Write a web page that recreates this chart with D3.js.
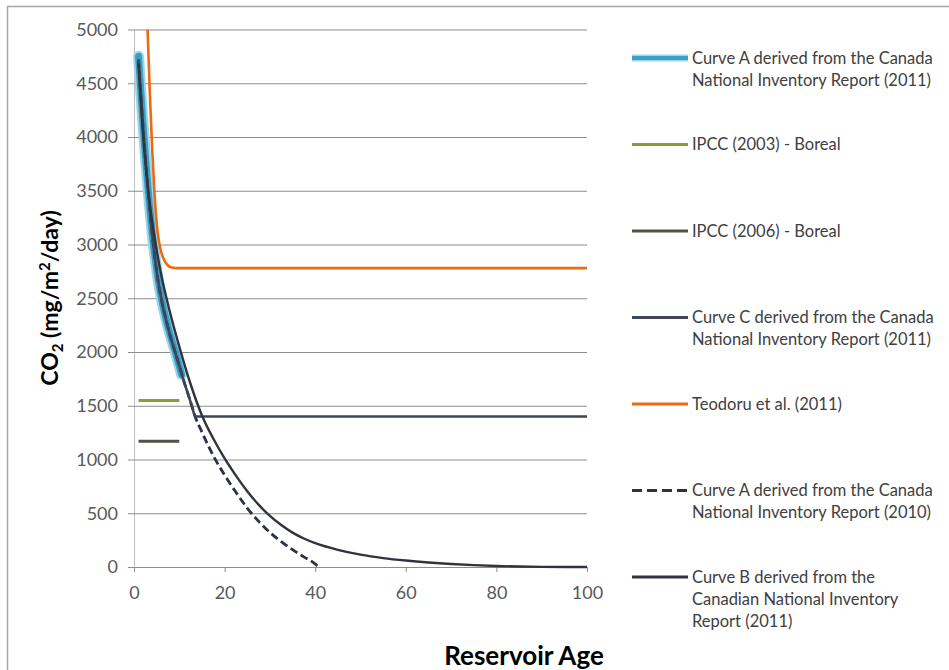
<!DOCTYPE html>
<html>
<head>
<meta charset="utf-8">
<script src="https://cdn.jsdelivr.net/npm/d3@7/dist/d3.min.js"></script>
<style>
  html, body { margin: 0; padding: 0; background: #fff; }
  svg { display: block; font-family: Lato, "Open Sans", sans-serif; }
</style>
</head>
<body>
<svg id="chart" width="949" height="670"></svg>
<script>
// ---------------- data ----------------
const xTicks = [0, 20, 40, 60, 80, 100];
const yTicks = [0, 500, 1000, 1500, 2000, 2500, 3000, 3500, 4000, 4500, 5000];

// [reservoir age, CO2 mg/m2/day]
const curveA2011 = [[1,4750],[1.5,4420],[2,4110],[2.5,3830],[3,3570],[3.5,3330],[4,3110],[4.5,2930],[5,2770],[6,2510],[7,2320],[8,2160],[9,2020],[10,1870],[10.5,1790]];
const ipcc2003 = [[1,1550],[10,1550]];
const ipcc2006 = [[1,1170],[10,1170]];
const curveC2011 = [[1,4720],[2,4090],[3,3550],[4,3100],[5,2750],[6,2500],[7,2310],[8,2150],[9,2010],[10,1870],[11,1730],[12,1600],[13,1465],[13.5,1400],[20,1400],[40,1400],[60,1400],[80,1400],[100,1400]];
const teodoru2011 = [[3,5000],[3.5,4400],[4,3900],[4.5,3500],[5,3200],[5.5,3030],[6,2930],[6.5,2870],[7,2830],[7.5,2805],[8,2790],[9,2782],[10,2780],[20,2780],[40,2780],[60,2780],[80,2780],[100,2780]];
const curveA2010 = [[1,4720],[2,4090],[3,3550],[4,3100],[5,2750],[6,2500],[7,2310],[8,2150],[9,2010],[10,1870],[11,1730],[12,1600],[13,1465],[13.5,1400],[15,1255],[17.5,1035],[20,855],[22.5,695],[25,548],[27.5,425],[30,322],[32.5,236],[35,162],[37.5,94],[40,28],[40.7,0]];
const curveB2011 = [[1,4680],[2,4020],[3,3560],[4,3220],[5,2950],[6,2720],[8,2360],[10,2050],[12.5,1700],[15,1410],[17.5,1195],[20,1010],[22.5,850],[25,705],[27.5,580],[30,475],[32.5,390],[35,320],[37.5,265],[40,222],[45,160],[50,115],[55,83],[60,60],[65,42],[70,28],[75,17],[80,9],[85,4],[90,1],[95,0],[100,0]];

const legendLabels = [
  ["Curve A derived from the Canada", "National Inventory Report (2011)"],
  ["IPCC (2003) - Boreal"],
  ["IPCC (2006) - Boreal"],
  ["Curve C derived from the Canada", "National Inventory Report (2011)"],
  ["Teodoru et al. (2011)"],
  ["Curve A derived from the Canada", "National Inventory Report (2010)"],
  ["Curve B derived from the", "Canadian National Inventory", "Report (2011)"]
];

// ---------------- layout ----------------
const svg = d3.select("#chart");
const W = 949, H = 670;
const plot = { left: 134, right: 587, top: 29.5, bottom: 567 };

const x = d3.scaleLinear().domain([0, 100]).range([plot.left, plot.right]);
const y = d3.scaleLinear().domain([0, 5000]).range([plot.bottom, plot.top]);

// frame
svg.append("path")
  .attr("d", `M7.5,${H} L7.5,6.5 L${W},6.5`)
  .attr("fill", "none").attr("stroke", "#a6a6a6").attr("stroke-width", 1.5);

// y axis with gridlines
const gy = svg.append("g").attr("transform", `translate(${plot.left},0)`)
  .call(d3.axisLeft(y).tickValues(yTicks).tickFormat(d3.format("d"))
    .tickSizeInner(-(plot.right - plot.left)).tickSizeOuter(0).tickPadding(16));
gy.select(".domain").attr("stroke", "#bfbfbf");
gy.selectAll(".tick line").attr("x1", -6).attr("x2", plot.right - plot.left).attr("stroke", "#8c8c8c").attr("stroke-width", 1);
gy.selectAll(".tick text").attr("fill", "#595959").style("font-size", "18px").style("font-family", "Lato, sans-serif");

// x axis
const gx = svg.append("g").attr("transform", `translate(0,${plot.bottom})`)
  .call(d3.axisBottom(x).tickValues(xTicks).tickFormat(d3.format("d"))
    .tickSizeInner(5).tickSizeOuter(0).tickPadding(14));
gx.select(".domain").attr("stroke", "#8c8c8c");
gx.selectAll(".tick line").attr("stroke", "#8c8c8c");
gx.selectAll(".tick text").attr("fill", "#595959").style("font-size", "18px").style("font-family", "Lato, sans-serif");

// lines
const line = d3.line().x(d => x(d[0])).y(d => y(d[1])).curve(d3.curveMonotoneX);

const styles = [
  { data: curveA2011, color: "#3a9fc4", width: 7, glow: "#9fd6e7" },
  { data: ipcc2003, color: "#8a9a3c", width: 3 },
  { data: ipcc2006, color: "#4d5546", width: 3 },
  { data: curveC2011, color: "#3e4558", width: 2.6 },
  { data: teodoru2011, color: "#ec6a12", width: 2.6 },
  { data: curveA2010, color: "#2c3244", width: 2.8, dash: "8,4" },
  { data: curveB2011, color: "#30343f", width: 2.4 }
];
const drawOrder = [0, 1, 2, 5, 3, 6, 4];
const gl = svg.append("g");
drawOrder.forEach(i => {
  const s = styles[i];
  if (s.glow) {
    gl.append("path").attr("d", line(s.data)).attr("fill", "none")
      .attr("stroke", s.glow).attr("stroke-width", s.width + 4).attr("stroke-linecap", "round");
  }
  gl.append("path").attr("d", line(s.data)).attr("fill", "none")
    .attr("stroke", s.color).attr("stroke-width", s.width)
    .attr("stroke-dasharray", s.dash || null)
    .attr("stroke-linecap", s.glow ? "round" : "butt");
});

// axis titles
svg.append("text")
  .attr("x", 524).attr("y", 665).attr("text-anchor", "middle")
  .style("font-size", "26px").style("font-weight", "bold").attr("fill", "#000")
  .text("Reservoir Age");

const yt = svg.append("text")
  .attr("transform", "translate(58,298) rotate(-90)")
  .attr("text-anchor", "middle")
  .style("font-size", "23px").style("font-weight", "bold").attr("fill", "#000");
yt.append("tspan").text("CO");
yt.append("tspan").text("2").style("font-size", "15px").attr("dy", 5);
yt.append("tspan").text(" (mg/m").attr("dy", -5);
yt.append("tspan").text("2").style("font-size", "15px").attr("dy", -8);
yt.append("tspan").text("/day)").attr("dy", 8);

// legend
const legY0 = 58, legStep = 86.5, lineH = 22;
legendLabels.forEach((lab, i) => {
  const s = styles[i];
  const cy = legY0 + i * legStep;
  const g = svg.append("g");
  if (s.glow) {
    g.append("line").attr("x1", 632).attr("x2", 688).attr("y1", cy).attr("y2", cy)
      .attr("stroke", s.glow).attr("stroke-width", 7);
  }
  g.append("line").attr("x1", 632).attr("x2", 688).attr("y1", cy).attr("y2", cy)
    .attr("stroke", s.color).attr("stroke-width", s.glow ? 4 : 3)
    .attr("stroke-dasharray", s.dash ? "10,5" : null);
  lab.forEach((t, j) => {
    g.append("text").attr("x", 692).attr("y", cy + j * lineH).attr("dy", "0.35em")
      .style("font-size", "16.5px").attr("fill", "#404040").text(t);
  });
});
</script>
</body>
</html>
